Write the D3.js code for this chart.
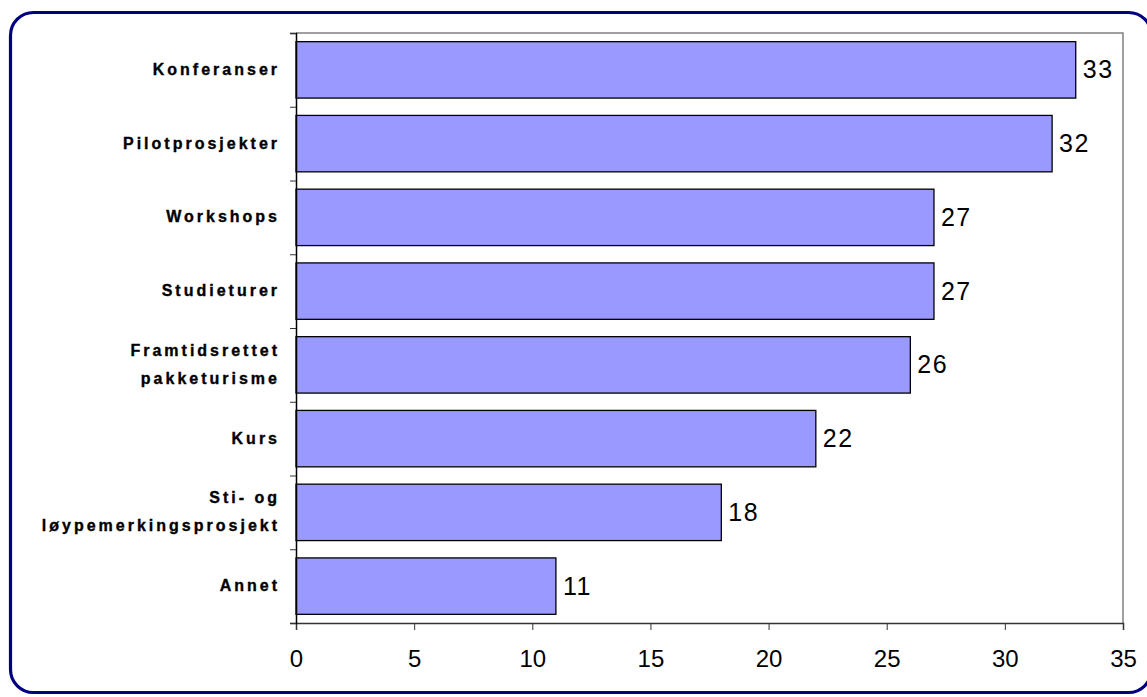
<!DOCTYPE html>
<html><head><meta charset="utf-8">
<script src="https://cdn.jsdelivr.net/npm/d3@7"></script>
<style>body{margin:0;background:#fff;}svg{display:block;}</style>
</head><body>
<svg id="chart" width="1147" height="697"></svg>
<script>
const categories = [["Konferanser"],["Pilotprosjekter"],["Workshops"],["Studieturer"],["Framtidsrettet","pakketurisme"],["Kurs"],["Sti- og","løypemerkingsprosjekt"],["Annet"]];
const values = [33,32,27,27,26,22,18,11];
const xTicks = [0,5,10,15,20,25,30,35];

const svg = d3.select("#chart");
const m = {left:296, right:1123, top:33, bottom:623};
const font = "Liberation Sans, Arial, sans-serif";

svg.append("rect").attr("x",10.5).attr("y",12.5).attr("width",1141).attr("height",680)
  .attr("rx",23).attr("fill","#fff").attr("stroke","#000080").attr("stroke-width",3.2);

const x = d3.scaleLinear().domain([0,35]).range([m.left,m.right]);
const idx = d3.range(categories.length);
const y = d3.scaleBand().domain(idx).range([m.top,m.bottom]).paddingInner(0.235).paddingOuter(0.1175);

// plot frame (top & right gray)
svg.append("path").attr("d",`M${m.left},${m.top}H${m.right}V${m.bottom}`)
  .attr("fill","none").attr("stroke","#808080").attr("stroke-width",1.5);

svg.selectAll("rect.bar").data(idx).enter().append("rect").attr("class","bar")
  .attr("x",x(0)).attr("y",i=>y(i)).attr("width",i=>x(values[i])-x(0)).attr("height",y.bandwidth())
  .attr("fill","#9999ff").attr("stroke","#000").attr("stroke-width",1.3);

svg.selectAll("text.val").data(idx).enter().append("text").attr("class","val")
  .attr("x",i=>x(values[i])+7).attr("y",i=>y(i)+y.bandwidth()/2+8.5)
  .attr("font-family",font).attr("font-size",25).attr("letter-spacing","1.5px").attr("fill","#000")
  .text(i=>values[i]);

// x axis
const xAxis = d3.axisBottom(x).tickValues(xTicks).tickSize(7);
const gx = svg.append("g").attr("transform",`translate(0,${m.bottom})`).call(xAxis);
gx.select(".domain").attr("stroke","#333").attr("stroke-width",1.5);
gx.selectAll(".tick line").attr("stroke","#333");
gx.selectAll(".tick text").attr("font-family",font).attr("font-size",24).attr("fill","#000")
  .attr("y",44).attr("dy",0);

// y axis with ticks at band boundaries
const yb = d3.scaleLinear().domain([0,categories.length]).range([m.top,m.bottom]);
const gy = svg.append("g").attr("transform",`translate(${m.left},0)`)
  .call(d3.axisLeft(yb).ticks(categories.length).tickSize(6).tickFormat(""));
gy.select(".domain").attr("stroke","#000").attr("stroke-width",1.5);
gy.selectAll(".tick line").attr("stroke","#333");

const lx = 280;
const lab = svg.selectAll("text.cat").data(idx).enter().append("text").attr("class","cat")
  .attr("x",lx).attr("text-anchor","end")
  .attr("font-family",font).attr("font-size",16).attr("font-weight","bold")
  .attr("letter-spacing","3px").attr("fill","#000").attr("stroke","#000").attr("stroke-width",0.35)
  .attr("y",i=>{const c=y(i)+y.bandwidth()/2; const n=categories[i].length; return c+5-(n-1)*14;});
lab.each(function(i){
  const t=d3.select(this);
  categories[i].forEach((s,k)=>t.append("tspan").attr("x",lx).attr("dy",k?28:0).text(s));
});
</script>
</body></html>
